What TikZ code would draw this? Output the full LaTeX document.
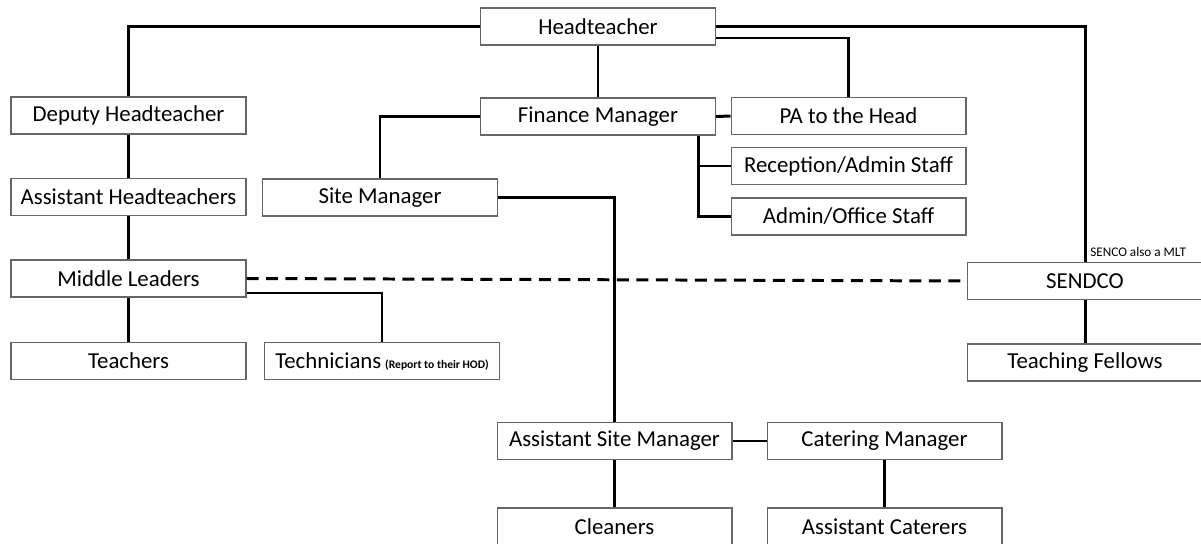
\documentclass[tikz,border=0pt]{standalone}
\usepackage{fontspec}
\setmainfont{Carlito}
\usepackage{tikz}
\usetikzlibrary{positioning}
\tikzset{
    post/.style={
           rectangle,
           draw=black!60, line width=0.6pt,
           fill=white,
           minimum width=4.7cm,
           minimum height=0.74cm,
           inner sep=2pt,
           font=\fontsize{13}{15}\selectfont,
           text centered,
           },
    link/.style={
           draw=black, line width=1.7pt,
           },
    note/.style={
           font=\fontsize{7.5}{9}\selectfont,
           inner sep=0pt,
           },
}

\begin{document}
\begin{tikzpicture}[x=0.02cm,y=-0.02cm]

    \useasboundingbox (0,0) rectangle (1201,544);

    \node[post] (head)      at (598,26.5)   {Headteacher};
    \node[post] (deputy)    at (128.5,115.5) {Deputy Headteacher};
    \node[post] (finance)   at (598,116.5)  {Finance Manager};
    \node[post] (pa)        at (848.5,116)  {PA to the Head};
    \node[post] (reception) at (848.5,166)  {Reception/Admin Staff};
    \node[post] (office)    at (848.5,216.5) {Admin/Office Staff};
    \node[post] (asst)      at (128.5,197)  {Assistant Headteachers};
    \node[post] (site)      at (380,197.5)  {Site Manager};
    \node[post] (middle)    at (128.5,278.5) {Middle Leaders};
    \node[post] (sendco)    at (1085,281)   {SENDCO};
    \node[post] (teachers)  at (128.5,361)  {Teachers};
    \node[post] (tech)      at (382,361)
        {Technicians\,{\fontsize{6.6}{8}\selectfont\bfseries(Report to their HOD)}};
    \node[post] (fellows)   at (1085,362.5) {Teaching Fellows};
    \node[post] (asm)       at (614.5,441)  {Assistant Site Manager};
    \node[post] (catering)  at (884.5,441)  {Catering Manager};
    \node[post] (cleaners)  at (614.5,526.5) {Cleaners};
    \node[post] (caterers)  at (884.5,526.5) {Assistant Caterers};

    \node[note,anchor=base west] (mlt) at ([xshift=0.1cm,yshift=0.1cm]sendco.north)
        {SENCO also a MLT};

    \coordinate (fbus) at ([xshift=-0.36cm]finance.south east);

    \draw[link] (head.west) -| (deputy.north);
    \draw[link] (head.east) -| (sendco.north);
    \draw[link] ([yshift=-0.23cm]head.east) -| (pa.north);
    \draw[link] (head) -- (finance);
    \draw[link] (finance.west) -| (site.north);
    \draw[link] (finance.east) -- (pa.west);
    \draw[link] (fbus) |- (office.west);
    \draw[link] (fbus |- reception.west) -- (reception.west);
    \draw[link] (site.east) -| (asm.north);
    \draw[link] (deputy) -- (asst);
    \draw[link] (asst) -- (middle);
    \draw[link] (middle) -- (teachers);
    \draw[link] ([yshift=-0.29cm]middle.east) -| (tech.north);
    \draw[link,dash pattern=on 0.24cm off 0.15cm] (middle.east) -- (sendco.west);
    \draw[link] (sendco) -- (fellows);
    \draw[link] (asm) -- (catering);
    \draw[link] (asm) -- (cleaners);
    \draw[link] (catering) -- (caterers);

\end{tikzpicture}
\end{document}
